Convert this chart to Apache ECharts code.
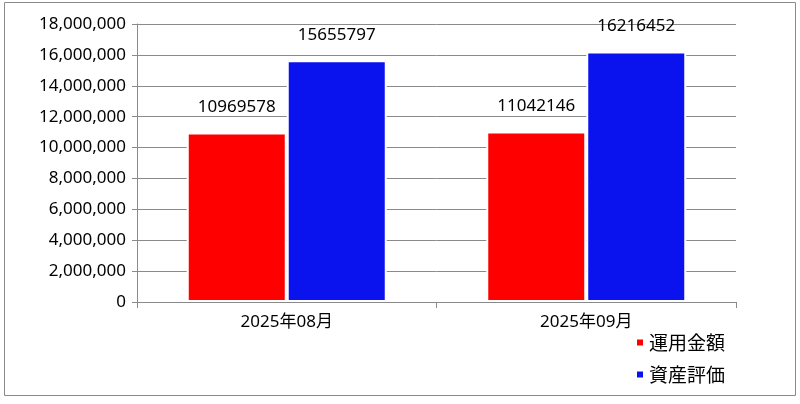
<!DOCTYPE html>
<html>
<head>
<meta charset="utf-8">
<script src="https://cdn.jsdelivr.net/npm/echarts@6/dist/echarts.min.js"></script>
<style>
html,body{margin:0;padding:0;background:#fff;}
#c{width:800px;height:404px;}
</style>
</head>
<body>
<div id="c"></div>
<script>
var categories = ['2025年08月', '2025年09月'];
var seriesNames = ['運用金額', '資産評価'];
var invested = [10969578, 11042146];
var valuation = [15655797, 16216452];
var yTicks = [0, 2000000, 4000000, 6000000, 8000000, 10000000, 12000000, 14000000, 16000000, 18000000];

var chart = echarts.init(document.getElementById('c'), null, {renderer: 'canvas'});
var font = '"Noto Sans", "Noto Sans CJK JP", sans-serif';
var cjk = '"Noto Sans CJK JP", "Noto Sans", sans-serif';
var gray = '#8a8a8a';

function barSeries(name, data, color) {
  return {
    name: name,
    type: 'bar',
    data: data,
    barWidth: 100,
    barGap: '0%',
    itemStyle: {color: color, borderColor: '#ffffff', borderWidth: 2},
    label: {
      show: true,
      position: 'top',
      distance: 17,
      color: '#000',
      fontFamily: font,
      fontSize: 17
    }
  };
}

chart.setOption({
  animation: false,
  backgroundColor: '#fff',
  graphic: [{
    type: 'rect',
    shape: {x: 4.5, y: 2.5, width: 791, height: 393},
    style: {fill: 'none', stroke: gray, lineWidth: 1},
    z: -10
  }],
  grid: {left: 137, right: 64, top: 24, bottom: 102, containLabel: false},
  legend: {
    orient: 'vertical',
    left: 630,
    top: 328,
    icon: 'rect',
    itemWidth: 8,
    itemHeight: 8,
    itemGap: 13,
    textStyle: {fontFamily: cjk, fontSize: 19, color: '#000'},
    data: seriesNames
  },
  xAxis: {
    type: 'category',
    data: categories,
    z: 10,
    axisLine: {lineStyle: {color: gray, width: 1}},
    axisTick: {show: true, length: 6, lineStyle: {color: gray}},
    axisLabel: {fontFamily: font, fontSize: 17, color: '#000', margin: 12}
  },
  yAxis: {
    type: 'value',
    min: yTicks[0],
    max: yTicks[yTicks.length - 1],
    interval: yTicks[1] - yTicks[0],
    axisLine: {show: true, lineStyle: {color: gray, width: 1}},
    axisTick: {show: true, length: 5, lineStyle: {color: gray}},
    splitLine: {show: true, lineStyle: {color: gray, width: 1}},
    axisLabel: {
      fontFamily: font, fontSize: 17, color: '#000', margin: 11,
      formatter: function (v) { return v.toLocaleString('en-US'); }
    }
  },
  series: [
    barSeries(seriesNames[0], invested, '#ff0000'),
    barSeries(seriesNames[1], valuation, '#0a12ee')
  ]
});
</script>
</body>
</html>
